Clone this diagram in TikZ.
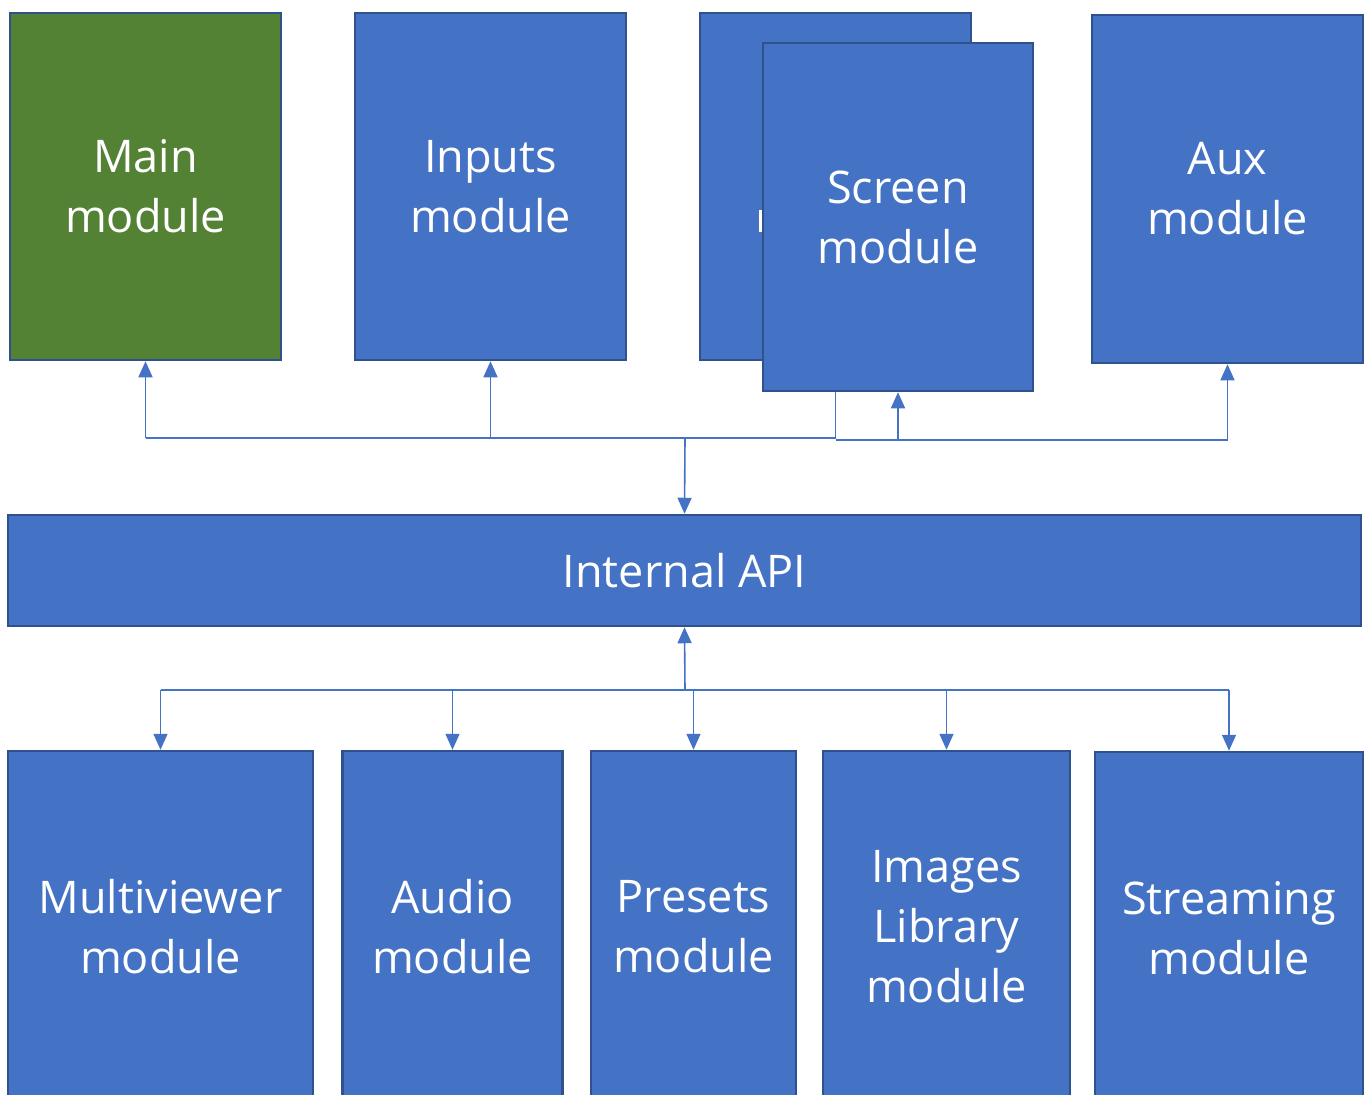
\documentclass[tikz,border=0pt]{standalone}
\usepackage{fontspec}
\setmainfont{Open Sans}
\usetikzlibrary{arrows.meta}
\definecolor{boxblue}{HTML}{4472C4}
\definecolor{boxedge}{HTML}{2F528F}
\definecolor{boxgreen}{HTML}{548235}
\begin{document}
\begin{tikzpicture}[x=1pt,y=-1pt,
  box/.style={draw=boxedge, line width=2.5pt, fill=boxblue, text=white, inner sep=0pt,
    align=center, font=\fontsize{45}{60}\selectfont},
  conn/.style={draw=boxblue, line width=1.6pt},
  arr/.style={conn, -{Triangle[width=14pt,length=16pt]}}]
\useasboundingbox (0,0) rectangle (1369,1095);
\clip (0,0) rectangle (1369,1095);
% top row
\node[box, fill=boxgreen, minimum width=271pt, minimum height=347pt] (main) at (145.5,186.5) {Main\\module};
\node[box, minimum width=271pt, minimum height=347pt] (inputs) at (490.5,186.5) {Inputs\\module};
\node[box, minimum width=271pt, minimum height=347pt] (back) at (835.5,186.5) {};
\fill[white] (758.5,210) rectangle (763,232);
\coordinate (tb) at (685,438);
\coordinate (tr) at (900,440);
\draw[conn] (back.south) -- (back.south |- tb) -- (main.south |- tb);
\node[box, minimum width=270pt, minimum height=348pt] (screen) at (898,217) {Screen\\module};
\node[box, minimum width=271pt, minimum height=348pt] (aux) at (1227.5,189) {Aux\\module};
% API
\node[box, minimum width=1353pt, minimum height=111pt] (api) at (684.5,570.5) {Internal API};
% bottom row
\node[box, minimum width=305pt, minimum height=352pt] (mv) at (160.5,927) {Multiviewer\\module};
\node[box, minimum width=220pt, minimum height=352pt] (audio) at (452.5,927) {Audio\\module};
\node[box, minimum width=205pt, minimum height=352pt] (presets) at (693.5,927) {Presets\\module};
\node[box, minimum width=247pt, minimum height=352pt] (images) at (946.5,927) {Images\\Library\\module};
\node[box, minimum width=268pt, minimum height=352pt] (stream) at (1229,928) {Streaming\\module};
% top connectors
\draw[arr] (tb) -- (api.north);
\draw[arr] (main.south |- tb) -- (main.south);
\draw[arr] (inputs.south |- tb) -- (inputs.south);
\draw[conn] (back.south |- tr) -- (aux.south |- tr);
\draw[arr] (screen.south |- tr) -- (screen.south);
\draw[arr] (aux.south |- tr) -- (aux.south);
% bottom connectors
\coordinate (bb) at (685,690);
\draw[arr] (bb) -- (api.south);
\draw[conn] (mv.north |- bb) -- (stream.north |- bb);
\draw[arr] (mv.north |- bb) -- (mv.north);
\draw[arr] (audio.north |- bb) -- (audio.north);
\draw[arr] (presets.north |- bb) -- (presets.north);
\draw[arr] (images.north |- bb) -- (images.north);
\draw[arr] (stream.north |- bb) -- (stream.north);
\end{tikzpicture}
\end{document}
